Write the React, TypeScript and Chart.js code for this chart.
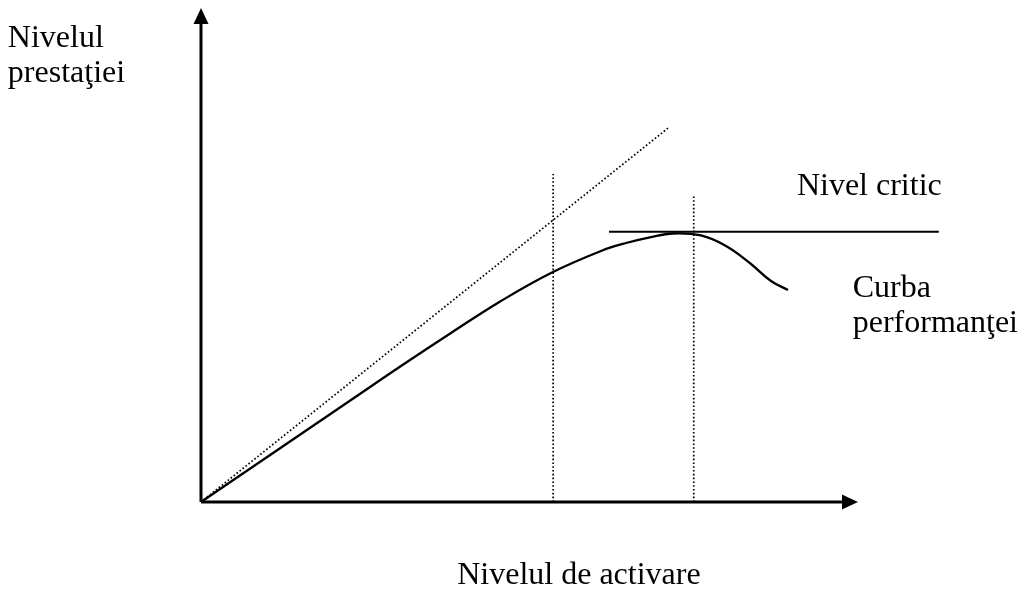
import React, { useEffect, useRef } from "react";
import { Chart, registerables } from "chart.js";

Chart.register(...registerables);

// Performance curve (activation level -> performance level)
const curveX = [0, 7.61, 15.22, 22.83, 30.44, 38.05, 45.66, 53.27, 60.88, 64.69, 68.49, 71.84, 76.1, 79.91, 83.71, 86.76, 89.35];
const curveY = [0, 6.88, 13.77, 20.65, 27.53, 34.21, 40.69, 46.36, 50.81, 52.43, 53.64, 54.35, 53.95, 51.82, 48.18, 44.74, 42.91];

// Dotted diagonal (ideal linear relation)
const diagonalX = [0, 71.1];
const diagonalY = [0, 75.7];

// Vertical dotted markers
const markerX = [53.6, 75.0];
const markerTop = [66.4, 62.1];

// Critical level line
const criticalLevel = 54.7;
const criticalRange = [62.1, 112.3];

// Axes extents
const axisMax = 100;

// Text labels [text, x, y]
const labelTexts = ["Nivelul", "prestaţiei", "Nivel critic", "Curba", "performanţei", "Nivelul de activare"];
const labelX = [-29.4, -29.4, 90.7, 99.2, 99.2, 39.0];
const labelY = [92.1, 85.0, 62.1, 41.5, 34.4, -16.6];

const arrowPlugin = {
  id: "arrowsAndLabels",
  afterDatasetsDraw(chart: any) {
    const { ctx, scales } = chart;
    const xs = scales.x;
    const ys = scales.y;
    const ox = xs.getPixelForValue(0);
    const oy = ys.getPixelForValue(0);
    const tipY = ys.getPixelForValue(axisMax);
    const tipX = xs.getPixelForValue(axisMax);
    const len = 16;
    const half = 7.5;
    ctx.save();
    ctx.fillStyle = "#000";
    ctx.beginPath();
    ctx.moveTo(ox, tipY);
    ctx.lineTo(ox - half, tipY + len);
    ctx.lineTo(ox + half, tipY + len);
    ctx.closePath();
    ctx.fill();
    ctx.beginPath();
    ctx.moveTo(tipX, oy);
    ctx.lineTo(tipX - len, oy - half);
    ctx.lineTo(tipX - len, oy + half);
    ctx.closePath();
    ctx.fill();

    ctx.font = '32px "Liberation Serif", "Times New Roman", serif';
    ctx.textBaseline = "alphabetic";
    ctx.textAlign = "left";
    labelTexts.forEach((t, i) => {
      ctx.fillText(t, xs.getPixelForValue(labelX[i]), ys.getPixelForValue(labelY[i]));
    });
    ctx.restore();
  },
};

export default function App() {
  const ref = useRef<HTMLCanvasElement | null>(null);

  useEffect(() => {
    if (!ref.current) return;
    const pts = (xs: number[], ys: number[]) => xs.map((x, i) => ({ x, y: ys[i] }));
    const dotted = { borderColor: "#000", borderWidth: 1.7, borderDash: [1.6, 2.2], pointRadius: 0, showLine: true, fill: false, tension: 0 };
    // axis line ends where arrowhead begins (16 px head)
    const headX = 16 / 6.57;
    const headY = 16 / 4.94;
    const chart = new Chart(ref.current, {
      type: "scatter",
      data: {
        datasets: [
          {
            data: [{ x: 0, y: 0 }, { x: 0, y: axisMax - headY }],
            borderColor: "#000", borderWidth: 3, pointRadius: 0, showLine: true,
          },
          {
            data: [{ x: 0, y: 0 }, { x: axisMax - headX, y: 0 }],
            borderColor: "#000", borderWidth: 3, pointRadius: 0, showLine: true,
          },
          { ...dotted, data: pts(diagonalX, diagonalY) },
          { ...dotted, data: [{ x: markerX[0], y: 0 }, { x: markerX[0], y: markerTop[0] }] },
          { ...dotted, data: [{ x: markerX[1], y: 0 }, { x: markerX[1], y: markerTop[1] }] },
          {
            data: [{ x: criticalRange[0], y: criticalLevel }, { x: criticalRange[1], y: criticalLevel }],
            borderColor: "#000", borderWidth: 2, pointRadius: 0, showLine: true,
          },
          {
            data: pts(curveX, curveY),
            borderColor: "#000", borderWidth: 2.3, pointRadius: 0, showLine: true,
            tension: 0.4,
          },
        ] as any,
      },
      options: {
        animation: false,
        responsive: false,
        layout: { padding: 0 },
        plugins: { legend: { display: false }, tooltip: { enabled: false }, title: { display: false } },
        scales: {
          x: { type: "linear", min: -201 / 6.57, max: 822 / 6.57, display: false },
          y: { type: "linear", min: -88 / 4.94, max: 502 / 4.94, display: false },
        },
      },
      plugins: [arrowPlugin],
    });
    return () => chart.destroy();
  }, []);

  return (
    <div style={{ position: "fixed", left: 0, top: 0, width: 1023, height: 590, background: "#fff" }}>
      <canvas ref={ref} width={1023} height={590} style={{ display: "block" }} />
    </div>
  );
}
